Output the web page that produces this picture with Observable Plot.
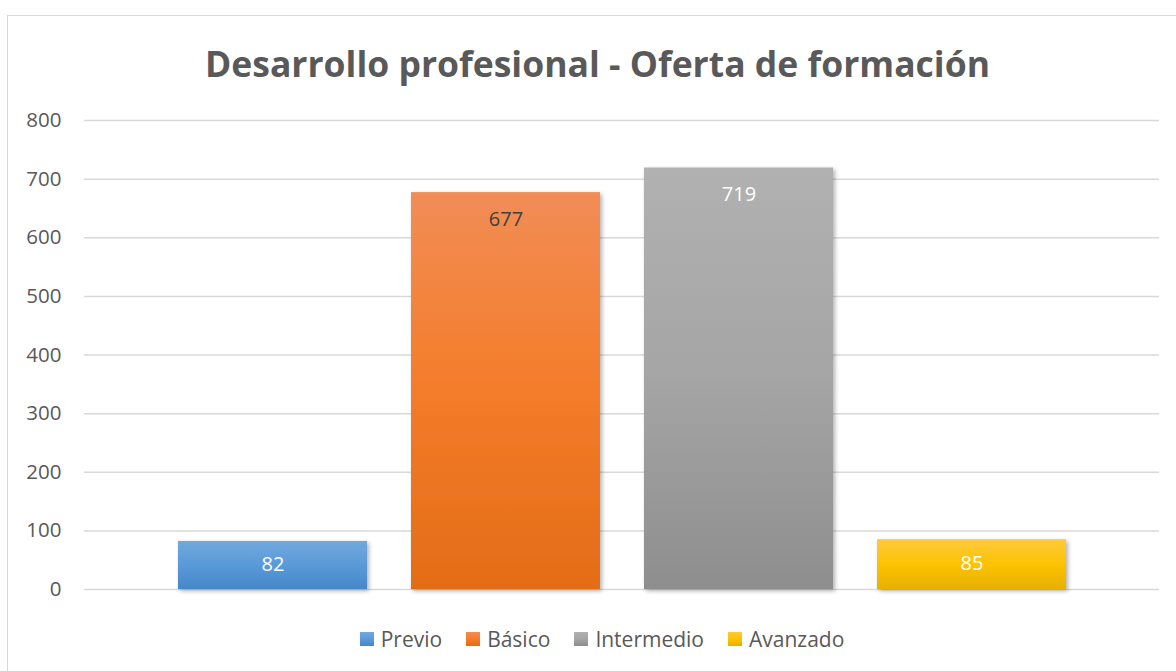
<!DOCTYPE html>
<html>
<head>
<meta charset="utf-8">
<script src="https://cdn.jsdelivr.net/npm/d3@7"></script>
<script src="https://cdn.jsdelivr.net/npm/@observablehq/plot@0.6"></script>
<style>
  html, body { margin: 0; padding: 0; background: #fff; width: 1176px; height: 671px; overflow: hidden; }
  body { position: relative; font-family: "Open Sans", sans-serif; }
  #frame { position: absolute; left: 7px; top: 15px; width: 1200px; height: 700px;
           border-left: 1.5px solid #d9d9d9; border-top: 1.5px solid #d9d9d9; }
  #title { position: absolute; left: 0; top: 38px; width: 1195px; text-align: center;
           font-weight: bold; font-size: 35.5px; color: #595959; line-height: 50px; }
  #chart { position: absolute; left: 0; top: 100px; }
  #legend { position: absolute; left: 0; top: 624px; width: 1204px; display: flex; justify-content: center;
            gap: 24px; font-size: 21px; color: #595959; line-height: 30px; }
  .item { display: flex; align-items: center; gap: 7px; }
  .sw { width: 14px; height: 14px; }
</style>
</head>
<body>
<div id="frame"></div>
<div id="title">Desarrollo profesional - Oferta de formación</div>
<div id="chart"></div>
<div id="legend"></div>
<script>
const categories = ["Previo", "Básico", "Intermedio", "Avanzado"];
const values = [82, 677, 719, 85];
const yTicks = [0, 100, 200, 300, 400, 500, 600, 700, 800];
const topColors = ["#72a9dd", "#f18d56", "#b1b1b1", "#ffc93d"];
const midColors = ["#5a9ad9", "#f47c2a", "#a5a5a5", "#fdc300"];
const bottomColors = ["#4587c8", "#e36c17", "#8e8e8e", "#e6b000"];
const labelColors = ["#ffffff", "#404040", "#ffffff", "#ffffff"];

const data = categories.map((c, i) => ({category: c, value: values[i], idx: i}));

const chart = Plot.plot({
  width: 1176,
  height: 510,
  marginTop: 20,
  marginBottom: 21,
  marginLeft: 84,
  marginRight: 17,
  style: {fontFamily: "'Open Sans', sans-serif", background: "transparent", overflow: "visible"},
  x: {domain: categories, paddingInner: 0.189, paddingOuter: 0.401, axis: null},
  y: {domain: [0, 800], ticks: yTicks, label: null},
  marks: [
    Plot.gridY(yTicks, {stroke: "#d9d9d9", strokeOpacity: 1, strokeWidth: 1.5}),
    Plot.axisY(yTicks, {tickSize: 0, tickPadding: 23, fontSize: 20.5, fill: "#595959", label: null}),
    Plot.barY(data, {x: "category", y: "value", fill: d => `url(#grad${d.idx})`,
      render: (index, scales, values, dims, context, next) => {
        const g = next(index, scales, values, dims, context);
        g.setAttribute("filter", "url(#barShadow)");
        return g;
      }}),
    Plot.text(data, {filter: d => d.value > 200, x: "category", y: "value", text: d => String(d.value), dy: 27,
      fill: d => labelColors[d.idx], fontSize: 20}),
    Plot.text(data, {filter: d => d.value <= 200, x: "category", y: "value", text: d => String(d.value), dy: 23.5,
      fill: d => labelColors[d.idx], fontSize: 20})
  ]
});

// gradients and shadow
const svgNS = "http://www.w3.org/2000/svg";
const defs = document.createElementNS(svgNS, "defs");
categories.forEach((c, i) => {
  const lg = document.createElementNS(svgNS, "linearGradient");
  lg.setAttribute("id", "grad" + i);
  lg.setAttribute("x1", "0"); lg.setAttribute("y1", "0");
  lg.setAttribute("x2", "0"); lg.setAttribute("y2", "1");
  [[0, topColors[i]], [0.5, midColors[i]], [1, bottomColors[i]]].forEach(([o, col]) => {
    const s = document.createElementNS(svgNS, "stop");
    s.setAttribute("offset", o);
    s.setAttribute("stop-color", col);
    lg.appendChild(s);
  });
  defs.appendChild(lg);
});
const f = document.createElementNS(svgNS, "filter");
f.setAttribute("id", "barShadow");
f.setAttribute("x", "-10%"); f.setAttribute("y", "-10%");
f.setAttribute("width", "130%"); f.setAttribute("height", "130%");
const ds = document.createElementNS(svgNS, "feDropShadow");
ds.setAttribute("dx", "2"); ds.setAttribute("dy", "2");
ds.setAttribute("stdDeviation", "2"); ds.setAttribute("flood-color", "#000");
ds.setAttribute("flood-opacity", "0.3");
f.appendChild(ds);
defs.appendChild(f);
chart.insertBefore(defs, chart.firstChild);
document.getElementById("chart").appendChild(chart);

// legend
const legend = document.getElementById("legend");
categories.forEach((c, i) => {
  const it = document.createElement("div");
  it.className = "item";
  const sw = document.createElement("div");
  sw.className = "sw";
  sw.style.background = `linear-gradient(${topColors[i]}, ${midColors[i]}, ${bottomColors[i]})`;
  const t = document.createElement("span");
  t.textContent = c;
  it.appendChild(sw); it.appendChild(t);
  legend.appendChild(it);
});
</script>
</body>
</html>
